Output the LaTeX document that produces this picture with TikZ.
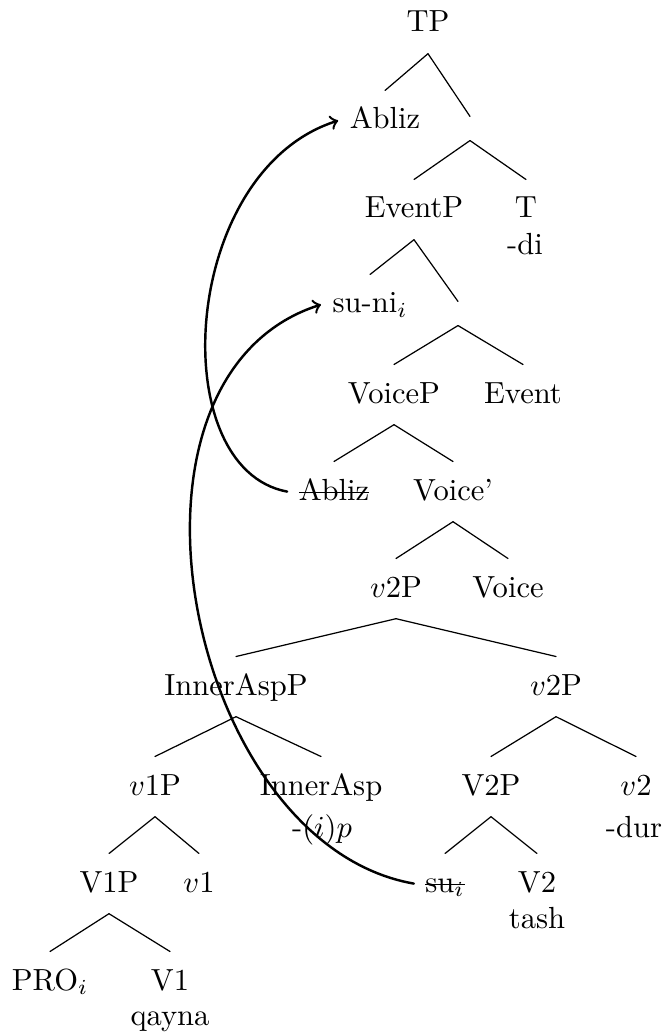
\documentclass[tikz,border=0pt]{standalone}
\newcommand{\strk}[1]{\setbox0\hbox{#1}\leavevmode\rlap{\rule[0.5ex]{\wd0}{0.4pt}}\box0}
\begin{document}
\begin{tikzpicture}[x=0.0115cm,y=-0.0115cm,line join=round,line cap=round,>=to]
	\tikzset{lbl/.style={anchor=base,inner xsep=3.6pt,inner ysep=5.4pt,text height=7pt,text depth=1.5pt},
		gap/.style={inner sep=0pt,minimum height=7.5pt,minimum width=0pt}}
	\useasboundingbox (0,0) rectangle (665,1034);
	% nodes, row by row
	\node[lbl] (TP) at (428,32) {TP};
	\node[lbl] (Abliz) at (385,129) {Abliz};
	\node[gap] (e1) at (470,128.5) {};
	\node[lbl] (EventP) at (414,218) {EventP};
	\node[lbl] (T) at (526,218) {T};
	\node[lbl] (Tdi) at (525,255) {-di};
	\node[lbl] (suni) at (370,313) {su-ni$_i$};
	\node[gap] (e2) at (458,313.5) {};
	\node[lbl] (VoiceP) at (394,403) {VoiceP};
	\node[lbl] (Event) at (523,403) {Event};
	\node[lbl] (AblizT) at (334,500) {\strk{Abliz}};
	\node[lbl] (Voicebar) at (453,500) {Voice'};
	\node[lbl] (vtwoP) at (396,597) {$v$2P};
	\node[lbl] (Voice) at (508,597) {Voice};
	\node[lbl] (InnerAspP) at (236,695) {InnerAspP};
	\node[lbl] (vtwoPb) at (556,695) {$v$2P};
	\node[lbl] (voneP) at (155,795) {$v$1P};
	\node[lbl] (InnerAsp) at (321,795) {InnerAsp};
	\node[lbl] (iap) at (322,837) {-$(i)p$};
	\node[lbl] (VtwoP) at (491,795) {V2P};
	\node[lbl] (vtwo) at (636,795) {$v$2};
	\node[lbl] (dur) at (634,837) {-dur};
	\node[lbl] (VoneP) at (109,892) {V1P};
	\node[lbl] (vone) at (199,892) {$v$1};
	\node[lbl] (suT) at (445,892) {\strk{su$_i$}};
	\node[lbl] (Vtwo) at (537,892) {V2};
	\node[lbl] (tash) at (537,928) {tash};
	\node[lbl] (PRO) at (50,990) {PRO$_i$};
	\node[lbl] (Vone) at (170,990) {V1};
	\node[lbl] (qayna) at (170,1025) {qayna};
	% branches
	\foreach \p/\c in {TP/Abliz,TP/e1,e1/EventP,e1/T,EventP/suni,EventP/e2,e2/VoiceP,e2/Event,
		VoiceP/AblizT,VoiceP/Voicebar,Voicebar/vtwoP,Voicebar/Voice,vtwoP/InnerAspP,vtwoP/vtwoPb,
		InnerAspP/voneP,InnerAspP/InnerAsp,vtwoPb/VtwoP,vtwoPb/vtwo,voneP/VoneP,voneP/vone,
		VtwoP/suT,VtwoP/Vtwo,VoneP/PRO,VoneP/Vone}
	\draw (\p.south)--(\c.north);
	% movement
	\draw[->,thick] (AblizT.west) .. controls +(-124,-23) and +(-158,50) .. (Abliz.west);
	\draw[->,thick] (suT.west) .. controls +(-228,-40) and +(-226,72) .. (suni.west);
\end{tikzpicture}
\end{document}
